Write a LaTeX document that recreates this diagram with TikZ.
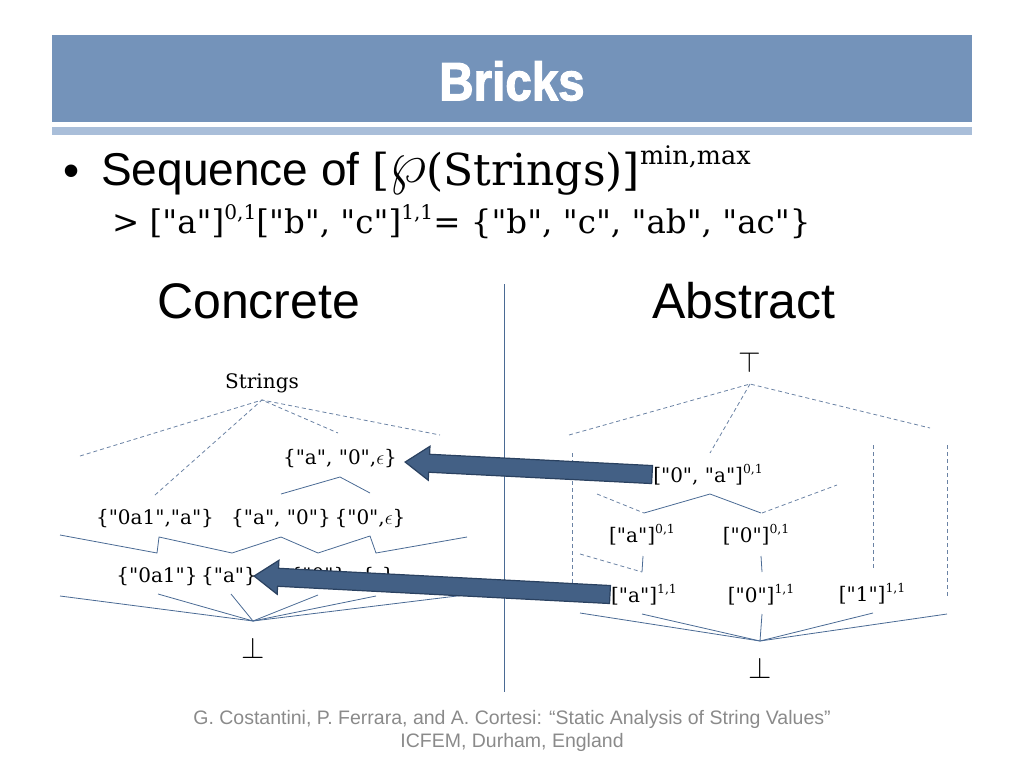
\RequirePackage{fix-cm}
\documentclass[tikz,border=0pt]{standalone}
\usepackage{fontspec}
\usepackage{graphicx}
\usetikzlibrary{calc}
\setmainfont{DejaVu Serif}[Ligatures=TeXOff]
\newfontfamily\arial{Liberation Sans}
\newfontfamily\titlefont[FakeStretch=0.88,FakeBold=2]{Liberation Sans Bold}
\newcommand\upi[1]{\raisebox{0.42em}{\scalebox{0.62}{#1}}}
\definecolor{barA}{HTML}{7493BA}
\definecolor{barB}{HTML}{A9BED9}
\definecolor{lineC}{HTML}{4A6A94}
\definecolor{dashC}{HTML}{6A82A4}
\definecolor{arrF}{HTML}{436085}
\definecolor{arrD}{HTML}{2A4160}
\definecolor{footC}{HTML}{8A8A8A}
\tikzset{
  lat/.style={draw=lineC, line width=0.8pt},
  dsh/.style={draw=dashC, line width=0.8pt, dash pattern=on 4pt off 3pt},
  lbl/.style={inner sep=0pt, anchor=base, font=\fontsize{20}{24}\selectfont},
  bigarrow/.style={fill=arrF, draw=arrD, line width=1.2pt, line join=miter},
}
\newcommand\blockarrow[3]{%
  \coordinate (#3b) at ($(#2)!24pt!(#1)$);
  \filldraw[bigarrow] ($(#1)!9pt!90:(#2)$) -- ($(#3b)!9pt!90:(#2)$)
    -- ($(#3b)!17pt!90:(#2)$) -- (#2) -- ($(#3b)!17pt!-90:(#2)$)
    -- ($(#3b)!9pt!-90:(#2)$) -- ($(#1)!9pt!-90:(#2)$) -- cycle;
}
\begin{document}
\begin{tikzpicture}[x=1pt,y=-1pt]
\useasboundingbox (0,0) rectangle (1024,768);
% header
\fill[barA] (52,35) rectangle (972,122);
\fill[barB] (52,127) rectangle (972,135);
\node[text=white, inner sep=0pt, font=\titlefont\fontsize{54}{60}\selectfont] (title) at (512,81) {Bricks};
\node[inner sep=0pt, font=\arial\fontsize{46}{50}\selectfont] (bullet) at (72,176) {•};
\node[inner sep=0pt, anchor=base west] (line1) at (101,185)
  {\fontsize{46}{50}\arial Sequence of \fontsize{44}{48}\rmfamily [\raisebox{3pt}{\scalebox{1.35}{$\wp$}}(Strings)]\raisebox{0.46em}{\scalebox{0.58}{min,max}}};
\node[inner sep=0pt, anchor=base west] (line2) at (112,233)
  {\fontsize{32.5}{36}\selectfont > ["a"]\upi{0,1}["b", "c"]\upi{1,1}= \{"b", "c", "ab", "ac"\}};
\node[inner sep=0pt, anchor=base west, font=\arial\fontsize{50}{56}\selectfont] (concrete) at (157,318) {Concrete};
\node[inner sep=0pt, anchor=base west, font=\arial\fontsize{50}{56}\selectfont] (abstract) at (652,318) {Abstract};
% divider
\coordinate (divT) at (504,284);
\coordinate (divB) at (504,692);
\draw[lineC, line width=0.8pt] (divT) -- (divB);
% ---------- concrete lattice ----------
\node[lbl] (strings) at (262,388) {Strings};
\node[lbl] (cTop) at (340,464) {\{"a", "0",$\epsilon$\}};
\node[lbl] (c1a) at (155,524) {\{"0a1","a"\}};
\node[lbl] (c1b) at (281,524) {\{"a", "0"\}};
\node[lbl] (c1c) at (370,524) {\{"0",$\epsilon$\}};
\node[lbl] (c2a) at (157,582) {\{"0a1"\}};
\node[lbl] (c2b) at (229,582) {\{"a"\}};
\node[lbl] (c2c) at (318,582) {\{"0"\}};
\node[lbl] (c2d) at (378,582) {\{$\epsilon$\}};
\node[lbl, font=\fontsize{30}{32}\selectfont] (cbot) at (253,658) {$\bot$};
\coordinate (cA) at (262,400);
\coordinate (cB) at (253,621);
\draw[dsh] (80,456) -- (cA) -- (440,435);
\draw[dsh] (155,495) -- (cA) -- (338,433);
\draw[lat] (281,494) -- (340,477) -- (370,493);
\draw[lat] (60,535) -- (157,553) -- (159,537) -- (232,553) -- (281,537) -- (318,553) -- (370,536) -- (376,553) -- (467,537);
\foreach \p in {(60,596),(158,594),(231,594),(318,595),(376,596),(465,595)}
  \draw[lat] \p -- (cB);
% ---------- abstract lattice ----------
\node[lbl, font=\fontsize{29}{30}\selectfont] (atop) at (750,372) {$\top$};
\node[lbl] (a0a) at (708,482) {["0", "a"]\upi{0,1}};
\node[lbl] (aA01) at (642,542) {["a"]\upi{0,1}};
\node[lbl] (a001) at (756,542) {["0"]\upi{0,1}};
\node[lbl] (aA11) at (644,602) {["a"]\upi{1,1}};
\node[lbl] (a011) at (761,602) {["0"]\upi{1,1}};
\node[lbl] (a111) at (872,601) {["1"]\upi{1,1}};
\node[lbl, font=\fontsize{30}{32}\selectfont] (abot) at (760,678) {$\bot$};
\coordinate (rA) at (750,384);
\coordinate (rB) at (760,641);
\draw[dsh] (569,435) -- (rA) -- (930,428);
\draw[dsh] (rA) -- (710,453);
\draw[dsh] (572,453) -- (572,587);
\draw[dsh] (873,445) -- (873,570);
\draw[dsh] (947,445) -- (947,597);
\draw[dsh] (597,494) -- (644,513);
\draw[dsh] (762,513) -- (837,485);
\draw[lat] (644,513) -- (710,494) -- (761,513);
\draw[dsh] (580,554) -- (642,572);
\draw[lat] (643,556) -- (642,572);
\draw[lat] (761,556) -- (762,572);
\foreach \p in {(580,613),(642,614),(762,614),(873,613),(947,614)}
  \draw[lat] \p -- (rB);
% ---------- big arrows ----------
\coordinate (t1) at ([xshift=-1pt]a0a.west);
\coordinate (h1) at ([xshift=8pt,yshift=-4pt]cTop.east);
\blockarrow{t1}{h1}{ar1}
\coordinate (t2) at ([xshift=-1pt]aA11.west);
\coordinate (h2) at ([xshift=-3pt]c2b.east);
\blockarrow{t2}{h2}{ar2}
% footer
\node[inner sep=0pt, anchor=base, text=footC, font=\arial\fontsize{19.5}{23}\selectfont] (foot1) at (512,724)
  {G. Costantini, P. Ferrara, and A. Cortesi: “Static Analysis of String Values”};
\node[inner sep=0pt, anchor=base, text=footC, font=\arial\fontsize{19.5}{23}\selectfont] (foot2) at (512,747)
  {ICFEM, Durham, England};
\end{tikzpicture}
\end{document}
